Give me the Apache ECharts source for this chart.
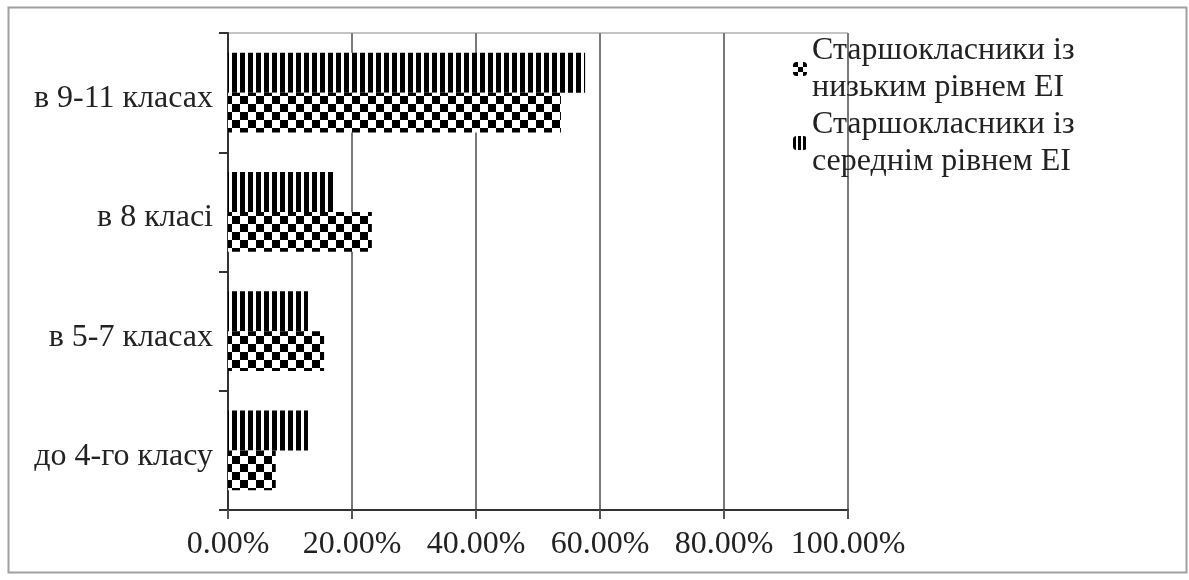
<!DOCTYPE html>
<html>
<head>
<meta charset="UTF-8">
<title>Старшокласники</title>
<script src="https://cdn.jsdelivr.net/npm/echarts@6/dist/echarts.min.js"></script>
<style>
  html, body { margin: 0; padding: 0; background: #fff; }
  #chart { width: 1189px; height: 580px; }
</style>
</head>
<body>
<div id="chart"></div>
<script>
// categories bottom -> top
var categories = ['до 4-го класу', 'в 5-7 класах', 'в 8 класі', 'в 9-11 класах'];
var lowName = 'Старшокласники із\nнизьким рівнем ЕІ';
var midName = 'Старшокласники із\nсереднім рівнем ЕІ';
var lowValues = [7.7, 15.5, 23.2, 53.7];
var midValues = [12.9, 12.9, 17.3, 57.6];

// cell = checker square size; period/black = stripe width
function checker(cell) {
  var c = document.createElement('canvas');
  c.width = cell * 2; c.height = cell * 2;
  var g = c.getContext('2d');
  g.fillStyle = '#fff'; g.fillRect(0, 0, cell * 2, cell * 2);
  g.fillStyle = '#000';
  g.fillRect(0, 0, cell, cell);
  g.fillRect(cell, cell, cell, cell);
  return c;
}
function stripes(period, black) {
  var c = document.createElement('canvas');
  c.width = period; c.height = 8;
  var g = c.getContext('2d');
  g.fillStyle = '#fff'; g.fillRect(0, 0, period, 8);
  g.fillStyle = '#000';
  g.fillRect(0, 0, black, 8);
  return c;
}

var font = '"Liberation Serif", "Times New Roman", serif';
var chart = echarts.init(document.getElementById('chart'));
var option = {
  animation: false,
  backgroundColor: '#fff',
  textStyle: { fontFamily: font },
  graphic: [{
    type: 'rect',
    shape: { x: 8.5, y: 7.5, width: 1178, height: 565 },
    style: { fill: 'none', stroke: '#a0a0a0', lineWidth: 2 },
    z: -1
  }],
  grid: {
    left: 228, right: 341, top: 33, bottom: 70,
    show: true, borderColor: '#8a8a8a', borderWidth: 1
  },
  legend: {
    orient: 'vertical',
    left: 788, top: 27,
    itemGap: 0,
    itemWidth: 14, itemHeight: 14,
    textStyle: { fontFamily: font, fontSize: 32, color: '#222', lineHeight: 37 },
    data: [
      { name: lowName, itemStyle: { borderWidth: 0, color: { image: checker(5), repeat: 'repeat' } } },
      { name: midName, itemStyle: { borderWidth: 0, color: { image: stripes(5, 3), repeat: 'repeat' } } }
    ]
  },
  xAxis: {
    type: 'value',
    min: 0, max: 100, interval: 20,
    axisLine: { show: true, lineStyle: { color: '#333', width: 2 } },
    axisTick: { show: true, length: 9, lineStyle: { color: '#555', width: 2 } },
    splitLine: { show: true, lineStyle: { color: '#7a7a7a', width: 2 } },
    axisLabel: {
      margin: 19, fontSize: 32, color: '#222', fontFamily: font,
      formatter: function (v) { return v.toFixed(2) + '%'; }
    }
  },
  yAxis: {
    type: 'category',
    data: categories,
    axisLine: { show: true, lineStyle: { color: '#333', width: 2 } },
    axisTick: { show: true, length: 9, lineStyle: { color: '#333', width: 2 } },
    axisLabel: {
      margin: 15,
      formatter: function (v) { return '{a|' + v + '}'; },
      rich: { a: { fontSize: 32, color: '#222', fontFamily: font, padding: [12, 0, 0, 0] } }
    }
  },
  series: [{
    name: midName,
    type: 'bar',
    data: midValues,
    barGap: '0%',
    barCategoryGap: '33%',
    itemStyle: { color: { image: stripes(8, 5), repeat: 'repeat' } }
  }, {
    name: lowName,
    type: 'bar',
    data: lowValues,
    barGap: '0%',
    barCategoryGap: '33%',
    itemStyle: { color: { image: checker(8), repeat: 'repeat' } }
  }]
};
chart.setOption(option);
</script>
</body>
</html>
